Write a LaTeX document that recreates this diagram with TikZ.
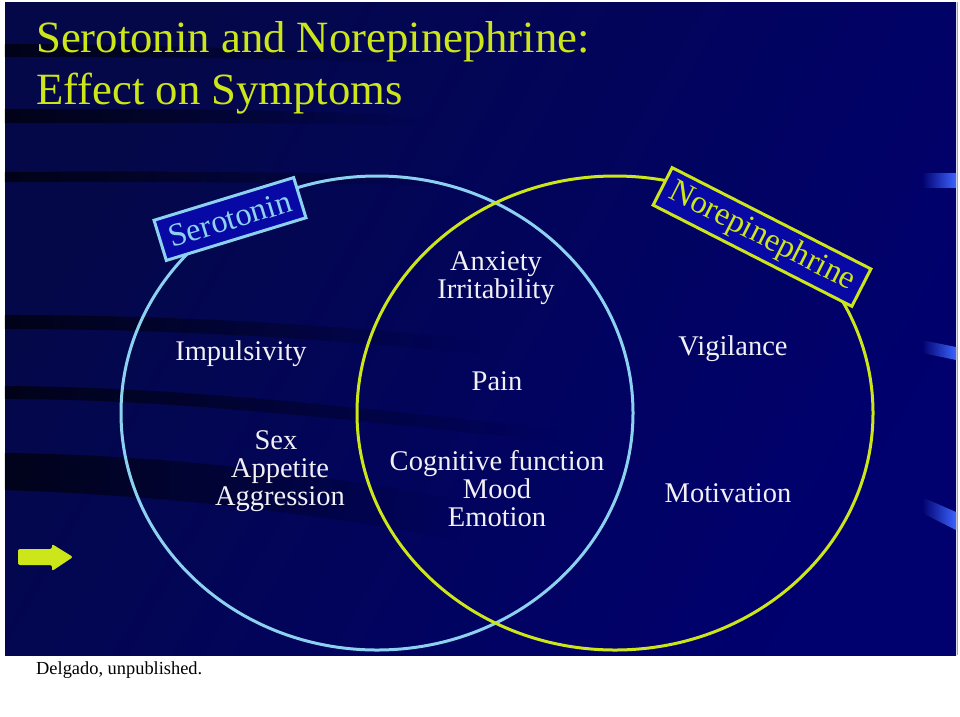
\documentclass[tikz,border=0pt]{standalone}
\usepackage{fontspec}
\setmainfont{Liberation Serif}
\usetikzlibrary{fadings}
\definecolor{navy}{RGB}{0,0,110}
\definecolor{navydark}{RGB}{4,8,72}
\definecolor{ygreen}{RGB}{204,230,26}
\definecolor{lblue}{RGB}{140,210,240}
\definecolor{boxblue}{RGB}{8,8,165}
\definecolor{stripe}{RGB}{60,100,255}
\definecolor{bodytext}{RGB}{240,240,245}
\tikzset{
  body/.style={text=bodytext, inner sep=0pt, anchor=base, font=\fontsize{28.5}{28}\selectfont},
  titletext/.style={text=ygreen, inner sep=0pt, anchor=base west, font=\fontsize{44.7}{52}\selectfont},
  band/.style={black, opacity=.65, path fading=east},
  labelbox/.style={line width=3pt, inner sep=0pt, minimum height=42pt, font=\fontsize{32.5}{32}\selectfont},
  edgestripe/.style={left color=navy, right color=stripe},
}
\begin{document}
\begin{tikzpicture}[x=1pt,y=-1pt]
\useasboundingbox (0,0) rectangle (960,716);
% page and slide background
\fill[white] (0,0) rectangle (960,716);
\shade[left color=navydark, right color=navy, shading angle=60] (5,2) rectangle (956,655);
\draw[gray!70, line width=1pt] (957,2) -- (957,655);
% dark streaks
\fill[band] (5,44) .. controls (150,44) and (300,50) .. (420,58) -- (420,64) .. controls (300,58) and (150,57) .. (5,57) -- cycle;
\fill[band] (5,109) .. controls (150,108) and (300,110) .. (420,116) -- (420,126) .. controls (300,122) and (150,123) .. (5,123) -- cycle;
\fill[band] (5,172) .. controls (150,171) and (300,172) .. (450,176) -- (450,186) .. controls (300,182) and (150,182) .. (5,182) -- cycle;
\fill[band] (5,315) .. controls (150,315) and (300,322) .. (480,340) -- (480,354) .. controls (300,336) and (150,329) .. (5,329) -- cycle;
\fill[band] (5,386) .. controls (150,387) and (300,400) .. (560,430) -- (560,442) .. controls (300,414) and (150,399) .. (5,399) -- cycle;
\fill[band] (5,453) .. controls (150,455) and (300,470) .. (460,500) -- (460,540) .. controls (300,510) and (150,495) .. (5,490) -- cycle;
% right edge stripes
\fill[edgestripe] (922,173) -- (956,173) -- (956,187) -- (922,187) -- cycle;
\fill[edgestripe] (922,340) -- (956,347) -- (956,360) -- (922,353) -- cycle;
\fill[edgestripe] (922,497) -- (956,512) -- (956,530) -- (922,513) -- cycle;
% title
\node[titletext] (t1) at (36,52) {Serotonin and Norepinephrine:};
\node[titletext] (t2) at (36,104) {Effect on Symptoms};
% ellipses
\draw[lblue, line width=3pt] (377,413) ellipse [x radius=256pt, y radius=237pt];
\draw[ygreen, line width=3pt] (615,413) ellipse [x radius=258pt, y radius=237pt];
% labels
\node[labelbox, draw=lblue, fill=boxblue, text=lblue, rotate=17, minimum width=146pt] (sero) at (230,219) {Serotonin};
\node[labelbox, draw=ygreen, fill=boxblue, text=ygreen, rotate=-27, minimum width=223pt] (nore) at (762,237) {Norepinephrine};
% body texts
\node[body] (anx) at (496,270) {Anxiety};
\node[body] (irr) at (496,298) {Irritability};
\node[body] (imp) at (241,360) {Impulsivity};
\node[body] (pain) at (497,390) {Pain};
\node[body] (vig) at (733,355) {Vigilance};
\node[body] (sex) at (276,449) {Sex};
\node[body] (app) at (280,477) {Appetite};
\node[body] (agg) at (280,505) {Aggression};
\node[body] (cog) at (497,470) {Cognitive function};
\node[body] (mood) at (497,498) {Mood};
\node[body] (emo) at (497,526) {Emotion};
\node[body] (mot) at (728,502) {Motivation};
% arrow
\fill[ygreen, rounded corners=2pt] (18,549) -- (52,549) -- (52,544) -- (73,557) -- (52,571) -- (52,565) -- (18,565) -- cycle;
% source
\node[text=black, inner sep=0pt, anchor=base west, font=\fontsize{18.4}{20}\selectfont] (src) at (36,674) {Delgado, unpublished.};
\end{tikzpicture}
\end{document}
